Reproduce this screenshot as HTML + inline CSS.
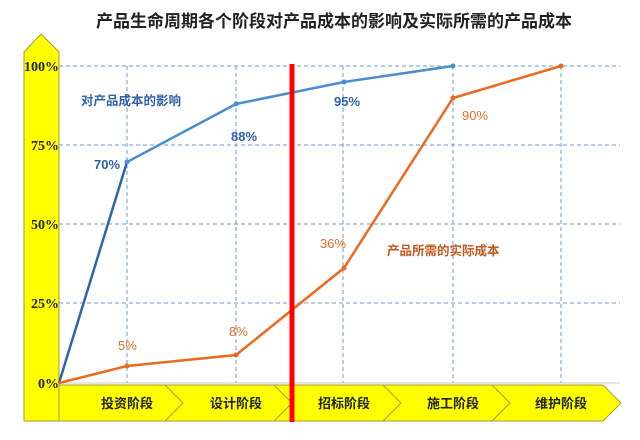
<!DOCTYPE html>
<html><head><meta charset="utf-8"><style>
body{margin:0;background:#fff;width:640px;height:435px;overflow:hidden}
svg text{font-family:"Liberation Sans","Noto Sans CJK SC",sans-serif}
svg text.serif{font-family:"Liberation Serif",serif}
</style></head><body>
<svg width="640" height="435" viewBox="0 0 640 435">
<text x="334" y="27" text-anchor="middle" font-size="17" font-weight="bold" fill="#222">产品生命周期各个阶段对产品成本的影响及实际所需的产品成本</text>
<polygon points="24,421 24,52 41,34 59,52 59,421" fill="#ffff00" stroke="#a89a3a" stroke-width="1"/>
<g fill="#ffff00" stroke="#a89a3a" stroke-width="1">
<polygon points="59,385 603,385 621,403 603,421 59,421"/>
<polyline fill="none" points="165,385 183,403 165,421"/>
<polyline fill="none" points="274,385 292,403 274,421"/>
<polyline fill="none" points="383,385 401,403 383,421"/>
<polyline fill="none" points="492,385 510,403 492,421"/>
</g>
<g font-size="13" font-weight="bold" fill="#222" text-anchor="middle">
<text x="127" y="408">投资阶段</text><text x="236" y="408">设计阶段</text><text x="344" y="408">招标阶段</text><text x="453" y="408">施工阶段</text><text x="561" y="408">维护阶段</text>
</g>
<g stroke="#6f9bcf" stroke-width="1" stroke-dasharray="4,3">
<line x1="59" y1="66" x2="620" y2="66"/><line x1="59" y1="145" x2="620" y2="145"/><line x1="59" y1="224" x2="620" y2="224"/><line x1="59" y1="303" x2="620" y2="303"/>
<line x1="127" y1="66" x2="127" y2="383"/><line x1="236" y1="66" x2="236" y2="383"/><line x1="343" y1="66" x2="343" y2="383"/><line x1="453" y1="66" x2="453" y2="383"/><line x1="561" y1="66" x2="561" y2="383"/>
</g>
<line x1="59" y1="383" x2="620" y2="383" stroke="#ccc"/>
<line x1="59" y1="52" x2="59" y2="421" stroke="#a89a3a"/>
<g font-size="14" font-weight="bold" fill="#222" text-anchor="end">
<text class="serif" x="59" y="71">100%</text><text class="serif" x="59" y="150">75%</text><text class="serif" x="59" y="229">50%</text><text class="serif" x="59" y="308">25%</text><text class="serif" x="59" y="388">0%</text>
</g>
<polyline fill="none" stroke="#2c64b0" stroke-width="2.5" points="59,383 127,162"/>
<polyline fill="none" stroke="#4a8ed0" stroke-width="2.5" points="127,162 236,104 344,82 453,66"/>
<g fill="#4a8ed0"><circle cx="127" cy="162" r="2.5"/><circle cx="236" cy="104" r="2.5"/><circle cx="344" cy="82" r="2.5"/><circle cx="453" cy="66" r="2.5"/></g>
<polyline fill="none" stroke="#ec6a1e" stroke-width="2.5" points="59,383 127,366 236,355 344,268 453,98 561,66"/>
<g fill="#ec6a1e"><circle cx="127" cy="366" r="2.5"/><circle cx="236" cy="355" r="2.5"/><circle cx="344" cy="268" r="2.5"/><circle cx="453" cy="98" r="2.5"/><circle cx="561" cy="66" r="2.5"/></g>
<rect x="289.5" y="64" width="5" height="358" fill="#ff0000"/>
<g font-size="13" font-weight="bold" fill="#2f5fa8">
<text x="81" y="105" font-size="12.5">对产品成本的影响</text>
<text x="94" y="169">70%</text><text x="231" y="141">88%</text><text x="334" y="106">95%</text>
</g>
<g font-size="13" fill="#e86d2a">
<text x="118" y="350">5%</text><text x="229" y="336">8%</text><text x="320" y="248">36%</text><text x="462" y="120">90%</text>
<text x="387" y="255" font-size="12.5" font-weight="bold" fill="#c2571e">产品所需的实际成本</text>
</g>
</svg>
</body></html>
